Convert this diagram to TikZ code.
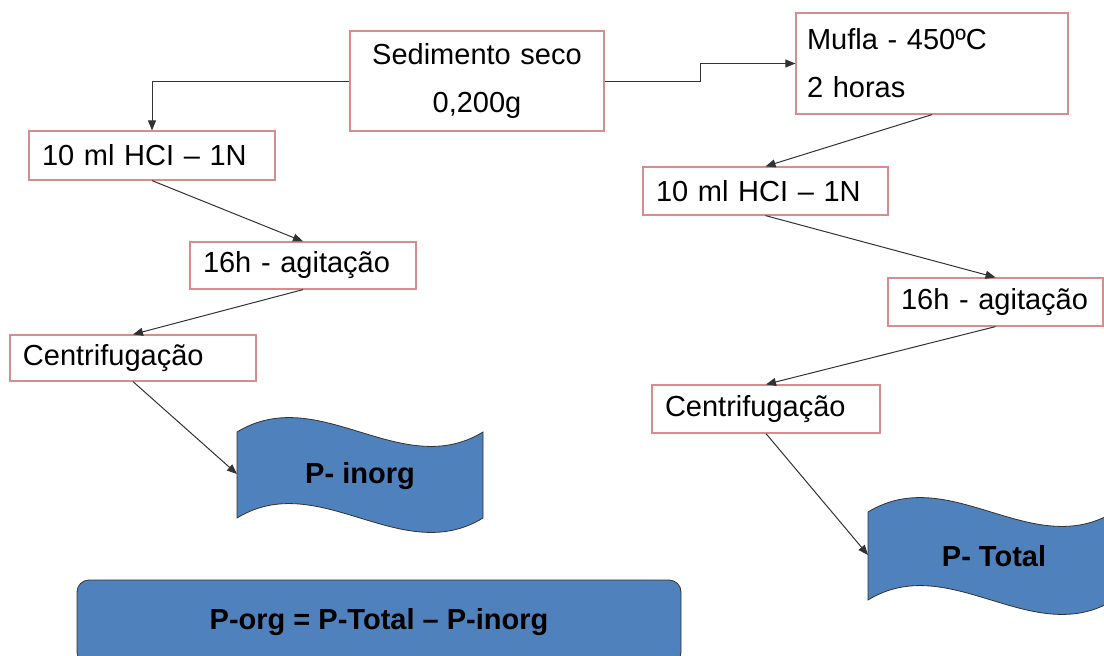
\documentclass[tikz,border=0pt]{standalone}
\usepackage{fontspec}
\setmainfont{Liberation Sans}
\usepackage{tikz}
\usepackage{xcolor}
\usetikzlibrary{positioning, arrows.meta}

\definecolor{stepred}{RGB}{217,140,140}
\definecolor{waveblue}{RGB}{79,129,189}
\definecolor{arrowgray}{RGB}{50,50,50}

\begin{document}
\begin{tikzpicture}[
            x=1pt, y=-1pt,
            font=\fontsize{29}{48}\selectfont,
            stepbox/.style={draw=stepred, line width=1.2pt, fill=white, align=left,
                inner xsep=13pt, inner ysep=0pt, minimum height=48pt, text width=#1},
            flow/.style={draw=arrowgray, line width=1pt, -{Triangle[length=10pt, width=8pt]}},
            wave/.style={draw=arrowgray, fill=waveblue, line width=0.8pt},
            result/.style={font=\fontsize{29}{35}\selectfont\bfseries},
        ]
            \useasboundingbox (0,0) rectangle (1104,656);
            \clip (0,0) rectangle (1104,656);

            % sample and muffle
            \node[stepbox=228pt, align=center, minimum height=100pt] (sed) at (477,81) {Sedimento seco\\0,200g};
            \node[stepbox=250pt, inner xsep=11pt, minimum height=101pt] (mufla) at (932,63.5) {Mufla - 450ºC\\2 horas};

            % left branch
            \node[stepbox=220pt, minimum height=49pt] (hcla) at (152,155.5) {10 ml HCI – 1N};
            \node[stepbox=200pt, minimum height=47pt] (agita) at (303,265.5) {16h - agitação};
            \node[stepbox=220pt, minimum height=46pt] (centa) at (133,358) {Centrifugação};

            % right branch
            \node[stepbox=219pt] (hclb) at (765.5,191) {10 ml HCI – 1N};
            \node[stepbox=189pt] (agitb) at (995.5,302) {16h - agitação};
            \node[stepbox=202pt] (centb) at (766,409) {Centrifugação};

            % results
            \path[wave] (237,432) .. controls (319,382) and (401,482) .. (483,432)
                -- (483,518) .. controls (401,568) and (319,468) .. (237,518) -- cycle;
            \node[result] (pinorg) at (360,476) {P- inorg};
            \coordinate (pinorgw) at (237,474);

            \path[wave] (868,512) .. controls (950,462) and (1032,562) .. (1114,512)
                -- (1114,600) .. controls (1032,650) and (950,550) .. (868,600) -- cycle;
            \node[result] (ptotal) at (994,556) {P- Total};
            \coordinate (ptotalw) at (868,555);

            \node[draw=arrowgray, fill=waveblue, line width=0.8pt, rounded corners=12pt,
                minimum width=604pt, minimum height=84pt, result] (porg) at (379,622) {P-org = P-Total – P-inorg};

            % connectors
            \draw[flow] (sed.west) -| (hcla.north);
            \draw[flow] (sed.east) -- ++(96,0) |- (mufla.west);
            \draw[flow] (hcla.south) -- (agita.north);
            \draw[flow] (agita.south) -- (centa.north);
            \draw[flow] (centa.south) -- (pinorgw);
            \draw[flow] (mufla.south) -- (hclb.north);
            \draw[flow] (hclb.south) -- (agitb.north);
            \draw[flow] (agitb.south) -- (centb.north);
            \draw[flow] (centb.south) -- (ptotalw);
        \end{tikzpicture}
\end{document}
